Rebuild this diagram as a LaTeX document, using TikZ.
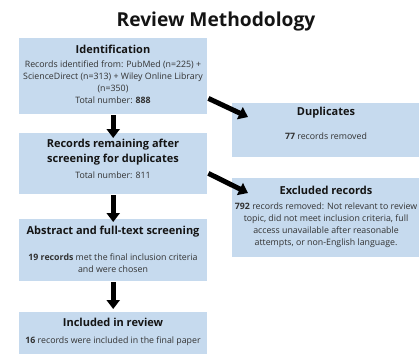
\documentclass[tikz,border=0pt]{standalone}
\usepackage{fontspec}
\setmainfont{Open Sans}
\usetikzlibrary{arrows.meta}
\definecolor{boxblue}{RGB}{198,218,238}
\definecolor{headtxt}{RGB}{20,20,20}
\definecolor{bodytxt}{RGB}{50,50,50}
\begin{document}
\begin{tikzpicture}[x=1pt,y=-1pt,
  box/.style={fill=boxblue, draw=none, inner sep=0pt, anchor=north west},
  bigarrow/.style={line width=5pt, black, -{Triangle[width=13pt,length=9pt]}},
  head/.style={font=\bfseries\fontsize{11}{15}\selectfont, text=headtxt, align=center, inner sep=0pt},
  body/.style={font=\fontsize{8.8}{11.9}\selectfont, text=bodytxt, align=center, inner sep=0pt}]
\useasboundingbox (0,0) rectangle (419,353);
\node[font=\bfseries\fontsize{19.2}{21}\selectfont, text=headtxt, inner sep=0pt] (title) at (216,22) {Review Methodology};
% boxes
\node[box, minimum width=188, minimum height=76] (b1) at (19,38) {};
\node[box, minimum width=188, minimum height=61] (b2) at (19,133) {};
\node[box, minimum width=188, minimum height=62] (b3) at (19,219) {};
\node[box, minimum width=188, minimum height=45] (b4) at (19,312) {};
\node[box, minimum width=187, minimum height=54] (dup) at (232,103) {};
\node[box, minimum width=187, minimum height=79] (exc) at (232,178) {};
% texts
\node[head] (t1h) at (113,49) {Identification};
\node[body] (t1b) at (113,82) {Records identified from: PubMed (n=225) +\\ScienceDirect (n=313) + Wiley Online Library\\(n=350)\\Total number: \textbf{888}};
\node[head] (t2h) at (113,152) {Records remaining after\\screening for duplicates};
\node[body] (t2b) at (113,175.5) {Total number: 811};
\node[head] (t3h) at (113,232) {Abstract and full-text screening};
\node[body] (t3b) at (113,263) {\textbf{19 records} met the final inclusion criteria\\and were chosen};
\node[head] (t4h) at (113,322) {Included in review};
\node[body] (t4b) at (113,341) {\textbf{16} records were included in the final paper};
\node[head] (tdh) at (326,113) {Duplicates};
\node[body] (tdb) at (326,136) {\textbf{77} records removed};
\node[head] (teh) at (326,190) {Excluded records};
\node[body] (teb) at (326,225) {\textbf{792} records removed: Not relevant to review\\topic, did not meet inclusion criteria, full\\access unavailable after reasonable\\attempts, or non-English language.};
% arrows
\draw[bigarrow] ([yshift=-1pt]b1.south) -- ([yshift=-5pt]b2.north);
\draw[bigarrow] ([yshift=-1pt]b2.south) -- ([yshift=-3pt]b3.north);
\draw[bigarrow] ([yshift=-1pt]b3.south) -- ([yshift=3pt]b4.north);
\draw[bigarrow] ([shift={(1,-16)}]b1.south east) -- ([shift={(16,14)}]dup.north west);
\draw[bigarrow] ([shift={(1,-21)}]b2.south east) -- ([shift={(16,15)}]exc.north west);
\end{tikzpicture}
\end{document}
